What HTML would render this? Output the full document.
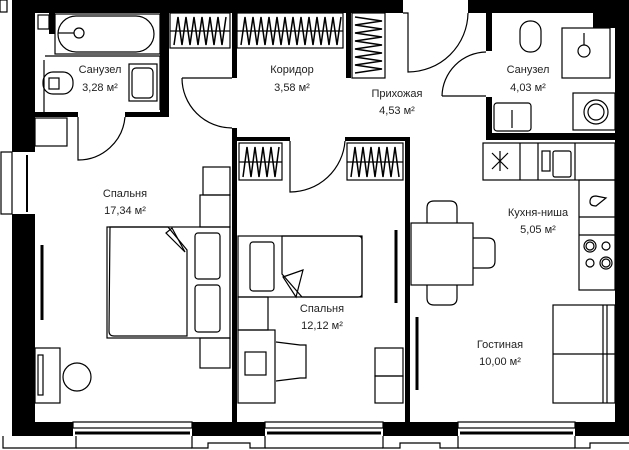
<!DOCTYPE html>
<html><head><meta charset="utf-8"><style>
html,body{margin:0;padding:0;background:#fff;}
svg{display:block;}
text{font-family:"Liberation Sans",sans-serif;font-size:11px;fill:#222;text-anchor:middle;}
</style></head><body>
<svg width="629" height="450" viewBox="0 0 629 450" xmlns="http://www.w3.org/2000/svg">
<g fill="#000">
<rect x="12" y="0" width="391" height="13"/>
<rect x="468" y="0" width="161" height="13"/>
<rect x="12" y="0" width="23" height="152"/>
<rect x="12" y="214" width="23" height="222"/>
<rect x="12" y="422" width="61" height="14"/>
<rect x="615" y="0" width="14" height="436"/>
<rect x="593" y="13" width="22" height="15"/>
<rect x="160" y="13" width="9" height="104"/>
<rect x="35" y="112" width="43" height="5"/>
<rect x="125" y="112" width="44" height="5"/>
<rect x="49" y="13" width="6" height="21"/>
<rect x="232" y="13" width="5" height="65"/>
<rect x="232" y="128" width="5" height="294"/>
<rect x="237" y="137" width="53" height="4"/>
<rect x="345" y="137" width="65" height="4"/>
<rect x="405" y="137" width="5" height="285"/>
<rect x="346" y="13" width="5" height="65"/>
<rect x="486" y="13" width="6" height="38"/>
<rect x="486" y="97" width="6" height="43"/>
<rect x="486" y="133" width="129" height="7"/>
<rect x="192" y="422" width="73" height="14"/>
<rect x="383" y="422" width="75" height="14"/>
<rect x="575" y="422" width="54" height="14"/>
</g>
<g fill="none" stroke="#000" stroke-width="1.2">
<rect x="1" y="152" width="11" height="62"/>
<line x1="27" y1="155" x2="27" y2="212" stroke-width="2"/>
<rect x="0" y="0" width="7" height="12"/>
<path d="M3 436 V448 H76 V436 M192 436 V448 H208 V443 H250 V448 H265 V436 M383 436 V448 H400 V443 H440 V448 H458 V436 M575 436 V448 H590 V443 H629"/>
<path d="M76 448 H192 M265 448 H383 M458 448 H575"/>
<rect x="73" y="422" width="119" height="6"/>
<rect x="265" y="422" width="118" height="6"/>
<rect x="458" y="422" width="117" height="6"/>
<line x1="75" y1="433" x2="190" y2="433" stroke-width="3"/>
<line x1="267" y1="433" x2="381" y2="433" stroke-width="3"/>
<line x1="460" y1="433" x2="573" y2="433" stroke-width="3"/>
<path d="M78 117 V160 A47 47 0 0 0 125 117"/>
<path d="M182 78 H232 M182 78 A50 50 0 0 0 232 128"/>
<path d="M290 141 V192 A55 55 0 0 0 345 141"/>
<path d="M403 13 H408 V72 A60 60 0 0 0 468 13"/>
<path d="M442 96 H486 M442 96 A45 45 0 0 1 486 52"/>
<rect x="170" y="13" width="60" height="35"/>
<rect x="237" y="13" width="106" height="35"/>
<rect x="352" y="13" width="33" height="65"/>
<rect x="239" y="143" width="43" height="37"/>
<rect x="347" y="143" width="56" height="37"/>
<path d="M174 45 L178 17 L182 45 L186 17 L190 45 L194 17 L198 45 L202 17 L206 45 L210 17 L214 45 L218 17 L222 45 L226 17" stroke-width="1.5"/>
<path d="M241 45 L245 17 L249 45 L253 17 L257 45 L261 17 L265 45 L269 17 L273 45 L277 17 L281 45 L285 17 L289 45 L293 17 L297 45 L301 17 L305 45 L309 17 L313 45 L317 17 L321 45 L325 17 L329 45 L333 17 L337 45 L341 17" stroke-width="1.5"/>
<path d="M355 17 L382 21 L355 25 L382 29 L355 33 L382 37 L355 41 L382 45 L355 49 L382 53 L355 57 L382 61 L355 65 L382 69 L355 73" stroke-width="1.5"/>
<path d="M243 177 L247 147 L251 177 L255 147 L259 177 L263 147 L267 177 L271 147 L275 177 L279 147" stroke-width="1.5"/>
<path d="M351 177 L355 147 L359 177 L363 147 L367 177 L371 147 L375 177 L379 147 L383 177 L387 147 L391 177 L395 147 L399 177" stroke-width="1.5"/>
<line x1="170" y1="31" x2="230" y2="31"/><line x1="237" y1="31" x2="343" y2="31"/>
<line x1="239" y1="162" x2="282" y2="162"/><line x1="347" y1="162" x2="403" y2="162"/>
<rect x="55" y="14" width="105" height="40"/>
<rect x="58" y="16" width="96" height="36" rx="18"/>
<circle cx="79" cy="33" r="5"/><line x1="58" y1="33" x2="74" y2="33"/>
<rect x="38" y="15" width="11" height="14"/>
<rect x="43" y="72" width="30" height="22" rx="10"/>
<rect x="49" y="78" width="10" height="11"/>
<rect x="129" y="64" width="28" height="37"/>
<rect x="132" y="68" width="21" height="30" rx="4"/>
<line x1="44" y1="60" x2="44" y2="112"/>
<line x1="45" y1="56" x2="160" y2="56"/>
<line x1="160" y1="56" x2="160" y2="110"/>
<rect x="35" y="118" width="32" height="28"/>
<rect x="203" y="167" width="27" height="28"/>
<rect x="200" y="195" width="30" height="32"/>
<rect x="107" y="227" width="123" height="111"/>
<path d="M110 227 H168 L187 250 V336 H114 Q109 336 109 331 Z"/>
<path d="M166 233 L172 228 L185 252 Z"/>
<rect x="195" y="233" width="25" height="46" rx="3"/>
<rect x="195" y="285" width="25" height="47" rx="3"/>
<rect x="200" y="338" width="30" height="30"/>
<line x1="42" y1="245" x2="42" y2="320" stroke-width="3"/>
<rect x="35" y="348" width="25" height="55"/>
<rect x="38" y="355" width="5" height="40"/>
<circle cx="77" cy="377" r="14"/>
<rect x="238" y="236" width="124" height="61"/>
<rect x="250" y="242" width="24" height="49" rx="3"/>
<path d="M282 236 H358 Q362 236 362 240 V294 Q362 297 358 297 H302 L282 274 Z"/>
<path d="M283 277 L303 270 L296 297 Z"/>
<rect x="238" y="297" width="30" height="33"/>
<rect x="238" y="330" width="37" height="73"/>
<rect x="245" y="352" width="21" height="23"/>
<path d="M276 342 L300 345 H306 V378 H300 L276 381"/>
<rect x="375" y="348" width="28" height="28"/>
<rect x="375" y="376" width="28" height="27"/>
<line x1="396" y1="230" x2="396" y2="303" stroke-width="3"/>
<line x1="417" y1="317" x2="417" y2="390" stroke-width="3"/>
<rect x="520" y="21" width="21" height="31" rx="10"/>
<rect x="562" y="28" width="48" height="50"/>
<circle cx="584" cy="51" r="6"/><line x1="584" y1="33" x2="584" y2="45"/>
<rect x="494" y="103" width="37" height="28" rx="3"/>
<line x1="512" y1="110" x2="512" y2="128"/>
<rect x="573" y="93" width="42" height="37"/>
<circle cx="596" cy="112" r="12"/><circle cx="596" cy="112" r="8"/>
<rect x="600" y="13" width="12" height="13"/>
<rect x="483" y="143" width="132" height="37"/>
<line x1="520" y1="143" x2="520" y2="180"/><line x1="538" y1="143" x2="538" y2="180"/><line x1="575" y1="143" x2="575" y2="180"/>
<path d="M492 153 L508 169 M508 153 L492 169 M500 151 V171"/>
<rect x="542" y="151" width="8" height="20"/><rect x="553" y="151" width="18" height="26" rx="2"/>
<rect x="579" y="180" width="36" height="110"/>
<line x1="579" y1="217" x2="615" y2="217"/><line x1="579" y1="235" x2="615" y2="235"/>
<path d="M590 202 Q590 196 596 196 L606 198 L596 206 Q590 206 590 202 Z"/>
<circle cx="590" cy="246" r="6"/><circle cx="590" cy="246" r="4"/>
<circle cx="606" cy="246" r="4"/>
<circle cx="590" cy="263" r="4"/>
<circle cx="606" cy="263" r="6"/><circle cx="606" cy="263" r="4"/>
<rect x="411" y="223" width="62" height="62"/>
<path d="M427 223 V208 Q427 201 434 201 H450 Q457 201 457 208 V223"/>
<path d="M427 285 V298 Q427 305 434 305 H450 Q457 305 457 298 V285"/>
<path d="M473 238 H488 Q495 238 495 245 V261 Q495 268 488 268 H473"/>
<rect x="553" y="305" width="62" height="98"/>
<line x1="553" y1="354" x2="615" y2="354"/>
<line x1="603" y1="305" x2="603" y2="403"/><line x1="607" y1="305" x2="607" y2="403"/>
</g>
<text x="100" y="73">Санузел</text><text x="100" y="91">3,28 м²</text>
<text x="292" y="73">Коридор</text><text x="292" y="91">3,58 м²</text>
<text x="397" y="97">Прихожая</text><text x="397" y="114">4,53 м²</text>
<text x="528" y="73">Санузел</text><text x="528" y="91">4,03 м²</text>
<text x="125" y="197">Спальня</text><text x="125" y="214">17,34 м²</text>
<text x="538" y="216">Кухня-ниша</text><text x="538" y="233">5,05 м²</text>
<text x="322" y="312">Спальня</text><text x="322" y="329">12,12 м²</text>
<text x="500" y="348">Гостиная</text><text x="500" y="365">10,00 м²</text>
</svg>
</body></html>
